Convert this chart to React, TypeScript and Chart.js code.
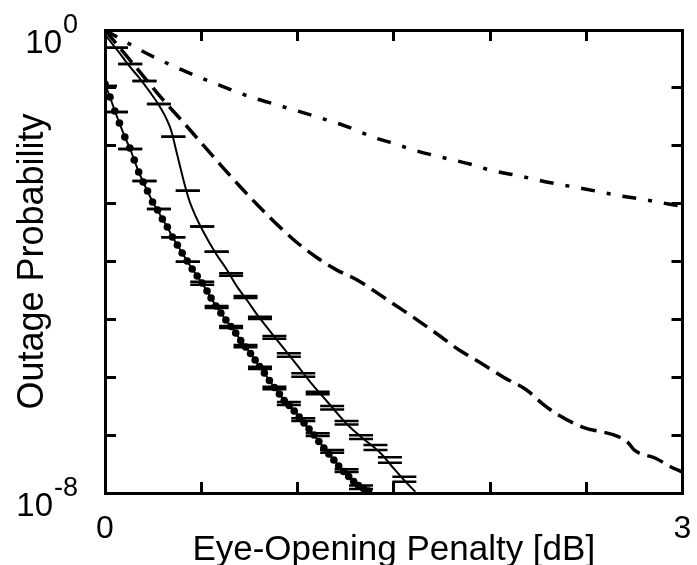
import React, { useEffect, useRef } from 'react';
import { Chart, registerables } from 'chart.js';

Chart.register(...registerables);

const FONT = '"Liberation Sans", Arial, Helvetica, sans-serif';

// ---- axis data ----
const xMin = 0;
const xMax = 3;
const xStep = 0.5;
const xLabelValues = [0, 3];
const yDecadeExponents = [0, -1, -2, -3, -4, -5, -6, -7, -8];
const yLabelExponents = [0, -8];
const xTitle = 'Eye-Opening Penalty [dB]';
const yTitle = 'Outage Probability';

// ---- series (y values stored as log10 of probability) ----
const dashDotX = [0, 0.1, 0.2, 0.3, 0.4, 0.5, 0.6, 0.75, 0.9, 1.0, 1.1, 1.25, 1.4, 1.5, 1.6, 1.75, 1.9, 2.0, 2.15, 2.3, 2.5, 2.65, 2.8, 3.0];
const dashDotLog = [0, -0.19, -0.375, -0.54, -0.69, -0.83, -0.96, -1.15, -1.3, -1.4, -1.5, -1.66, -1.86, -1.96, -2.07, -2.2, -2.32, -2.42, -2.52, -2.63, -2.75, -2.85, -2.93, -3.05];

const dashedX = [0, 0.1, 0.2, 0.3, 0.4, 0.5, 0.6, 0.7, 0.8, 0.9, 1.0, 1.1, 1.2, 1.31, 1.47, 1.6, 1.72, 1.84, 1.95, 2.07, 2.19, 2.27, 2.34, 2.48, 2.67, 2.72, 2.75, 2.86, 2.94, 3.0];
const dashedLog = [0, -0.4, -0.8, -1.2, -1.57, -1.95, -2.33, -2.7, -3.05, -3.38, -3.68, -3.93, -4.14, -4.32, -4.67, -4.96, -5.24, -5.53, -5.75, -6.0, -6.22, -6.45, -6.62, -6.86, -7.03, -7.14, -7.26, -7.4, -7.55, -7.64];

const solidX = [0, 0.077, 0.129, 0.18, 0.232, 0.274, 0.318, 0.343, 0.365, 0.386, 0.412, 0.437, 0.472, 0.506, 0.575, 0.634, 0.686, 0.737, 0.798, 0.866, 0.935, 1.004, 1.072, 1.132, 1.192, 1.261, 1.329, 1.432, 1.492, 1.553, 1.612];
const solidLog = [-0.08, -0.403, -0.634, -0.835, -1.066, -1.267, -1.526, -1.728, -2.016, -2.303, -2.649, -2.938, -3.226, -3.456, -3.858, -4.147, -4.435, -4.665, -4.954, -5.241, -5.529, -5.818, -6.104, -6.336, -6.566, -6.825, -7.027, -7.314, -7.546, -7.775, -7.978];

const dottedX = [0, 0.026, 0.051, 0.075, 0.103, 0.129, 0.152, 0.175, 0.198, 0.221, 0.247, 0.273, 0.298, 0.324, 0.35, 0.376, 0.401, 0.427, 0.453, 0.479, 0.504, 0.53, 0.551, 0.576, 0.602, 0.628, 0.654, 0.679, 0.705, 0.731, 0.756, 0.78, 0.803, 0.828, 0.854, 0.88, 0.906, 0.931, 0.957, 0.983, 1.009, 1.034, 1.06, 1.086, 1.111, 1.137, 1.163, 1.189, 1.214, 1.24, 1.266, 1.292, 1.317, 1.343, 1.369];
const dottedLog = [-0.933, -1.158, -1.4, -1.607, -1.849, -2.039, -2.246, -2.454, -2.626, -2.782, -2.972, -3.11, -3.266, -3.404, -3.577, -3.715, -3.853, -3.991, -4.13, -4.251, -4.372, -4.51, -4.631, -4.769, -4.89, -5.011, -5.123, -5.235, -5.365, -5.477, -5.59, -5.702, -5.814, -5.927, -6.056, -6.177, -6.289, -6.402, -6.488, -6.583, -6.687, -6.79, -6.894, -6.998, -7.11, -7.222, -7.326, -7.43, -7.533, -7.628, -7.715, -7.801, -7.87, -7.922, -7.965];

// simulated points with confidence bounds (upper / lower, log10)
const solidSimX = [0.057, 0.131, 0.205, 0.28, 0.355, 0.43, 0.505, 0.58, 0.655, 0.73, 0.805, 0.88, 0.955, 1.03, 1.105, 1.18, 1.255, 1.33, 1.405, 1.48, 1.555];
const solidSimHiLog = [-0.306, -0.587, -0.881, -1.279, -1.844, -2.777, -3.395, -3.831, -4.204, -4.596, -4.954, -5.287, -5.586, -5.932, -6.25, -6.497, -6.756, -7.0, -7.171, -7.383, -7.718];
const solidSimLoLog = [-0.306, -0.587, -0.881, -1.279, -1.844, -2.777, -3.395, -3.831, -4.245, -4.631, -4.994, -5.334, -5.645, -5.99, -6.295, -6.557, -6.816, -7.067, -7.257, -7.476, -7.805];

const dottedSimX = [0, 0.057, 0.131, 0.205, 0.28, 0.355, 0.43, 0.505, 0.58, 0.655, 0.73, 0.805, 0.88, 0.955, 1.03, 1.105, 1.18, 1.255, 1.33];
const dottedSimHiLog = [-0.968, -1.417, -2.056, -2.609, -3.093, -3.582, -4.003, -4.35, -4.769, -5.114, -5.443, -5.818, -6.163, -6.428, -6.709, -6.968, -7.257, -7.59, -7.87];
const dottedSimLoLog = [-0.968, -1.417, -2.056, -2.609, -3.093, -3.582, -4.003, -4.4, -4.803, -5.149, -5.483, -5.858, -6.208, -6.48, -6.756, -7.015, -7.304, -7.637, -7.93];

const toPoints = (xs: number[], logs: number[]) => xs.map((x, i) => ({ x, y: Math.pow(10, logs[i]) }));

const tickLabelPlugin = {
  id: 'tickLabelPlugin',
  afterDraw(chart: any) {
    const { ctx, chartArea, scales } = chart;
    const xs = scales.x;
    const ys = scales.y;
    ctx.save();
    ctx.fillStyle = '#000';
    ctx.textBaseline = 'alphabetic';
    ctx.font = `32px ${FONT}`;
    ctx.textAlign = 'center';
    xLabelValues.forEach((v) => {
      ctx.fillText(String(v), xs.getPixelForValue(v), chartArea.bottom + 45);
    });
    const rightEdge = chartArea.left - 27;
    yLabelExponents.forEach((e) => {
      const py = ys.getPixelForValue(Math.pow(10, e));
      const base = py + 23;
      const sup = e === 0 ? '0' : '-' + String(Math.abs(e));
      ctx.font = `27px ${FONT}`;
      ctx.textAlign = 'right';
      const supW = ctx.measureText(sup).width;
      ctx.fillText(sup, rightEdge, base - 20);
      ctx.font = `33px ${FONT}`;
      ctx.fillText('10', rightEdge - supW - 1, base);
    });
    ctx.restore();
  },
};

export default function App() {
  const canvasRef = useRef<HTMLCanvasElement | null>(null);

  useEffect(() => {
    if (!canvasRef.current) return;
    const decadeTicks = (s: any) => {
      s.ticks = yDecadeExponents.map((e) => ({ value: Math.pow(10, e) }));
    };
    const grid = {
      drawOnChartArea: false,
      drawTicks: true,
      tickLength: -11,
      tickWidth: 3,
      tickColor: '#000',
      lineWidth: 3,
      color: '#000',
    };
    const border = { display: true, width: 3, color: '#000' };

    const capStyle = {
      showLine: false,
      pointStyle: 'line',
      pointRadius: 12,
      pointHoverRadius: 12,
      pointBorderWidth: 2.5,
      pointBorderColor: '#000',
      pointBackgroundColor: '#000',
      borderColor: '#000',
    };

    const chart = new Chart(canvasRef.current, {
      type: 'line',
      data: {
        datasets: [
          {
            label: 'dash-dot',
            data: toPoints(dashDotX, dashDotLog),
            borderColor: '#000',
            borderWidth: 3.5,
            borderDash: [14, 12, 4, 12],
            pointRadius: 0,
            cubicInterpolationMode: 'monotone',
            fill: false,
          },
          {
            label: 'dashed',
            data: toPoints(dashedX, dashedLog),
            borderColor: '#000',
            borderWidth: 3.5,
            borderDash: [17, 8],
            pointRadius: 0,
            cubicInterpolationMode: 'monotone',
            fill: false,
          },
          {
            label: 'solid',
            data: toPoints(solidX, solidLog),
            borderColor: '#000',
            borderWidth: 2,
            pointRadius: 0,
            cubicInterpolationMode: 'monotone',
            fill: false,
          },
          {
            label: 'dotted',
            data: toPoints(dottedX, dottedLog),
            borderColor: '#000',
            borderWidth: 2,
            pointRadius: 3.8,
            pointBackgroundColor: '#000',
            pointBorderWidth: 0,
            fill: false,
          },
          { label: 'solid sim hi', data: toPoints(solidSimX, solidSimHiLog), ...capStyle },
          { label: 'solid sim lo', data: toPoints(solidSimX, solidSimLoLog), ...capStyle },
          { label: 'dotted sim hi', data: toPoints(dottedSimX, dottedSimHiLog), ...capStyle },
          { label: 'dotted sim lo', data: toPoints(dottedSimX, dottedSimLoLog), ...capStyle },
        ] as any,
      },
      options: {
        animation: false,
        responsive: false,
        devicePixelRatio: 1,
        events: [],
        layout: { padding: { left: 0, top: 30, right: 9, bottom: 0 } },
        plugins: { legend: { display: false }, tooltip: { enabled: false } },
        scales: {
          x: {
            type: 'linear',
            position: 'bottom',
            min: xMin,
            max: xMax,
            ticks: { stepSize: xStep, display: false },
            grid,
            border,
            title: {
              display: true,
              text: xTitle,
              color: '#000',
              font: { family: FONT, size: 35, lineHeight: 0.8 },
              padding: { top: 0, bottom: 1 },
            },
            afterFit: (s: any) => {
              s.height = 72;
            },
          },
          x2: {
            type: 'linear',
            axis: 'x',
            position: 'top',
            min: xMin,
            max: xMax,
            ticks: { stepSize: xStep, display: false },
            grid,
            border,
            afterFit: (s: any) => {
              s.height = 0;
            },
          },
          y: {
            type: 'logarithmic',
            position: 'left',
            min: 1e-8,
            max: 1,
            afterBuildTicks: decadeTicks,
            ticks: { display: false },
            grid,
            border,
            title: {
              display: true,
              text: yTitle,
              color: '#000',
              font: { family: FONT, size: 36, lineHeight: 0.8 },
              padding: { top: 19, bottom: 0 },
            },
            afterFit: (s: any) => {
              s.width = 105;
            },
          },
          y2: {
            type: 'logarithmic',
            axis: 'y',
            position: 'right',
            min: 1e-8,
            max: 1,
            afterBuildTicks: decadeTicks,
            ticks: { display: false },
            grid,
            border,
            afterFit: (s: any) => {
              s.width = 0;
            },
          },
        },
      } as any,
      plugins: [tickLabelPlugin],
    });
    return () => chart.destroy();
  }, []);

  return (
    <div style={{ position: 'fixed', left: 0, top: 0, width: 697, height: 565, background: '#fff' }}>
      <canvas ref={canvasRef} width={697} height={565} style={{ display: 'block', width: 697, height: 565 }} />
    </div>
  );
}
